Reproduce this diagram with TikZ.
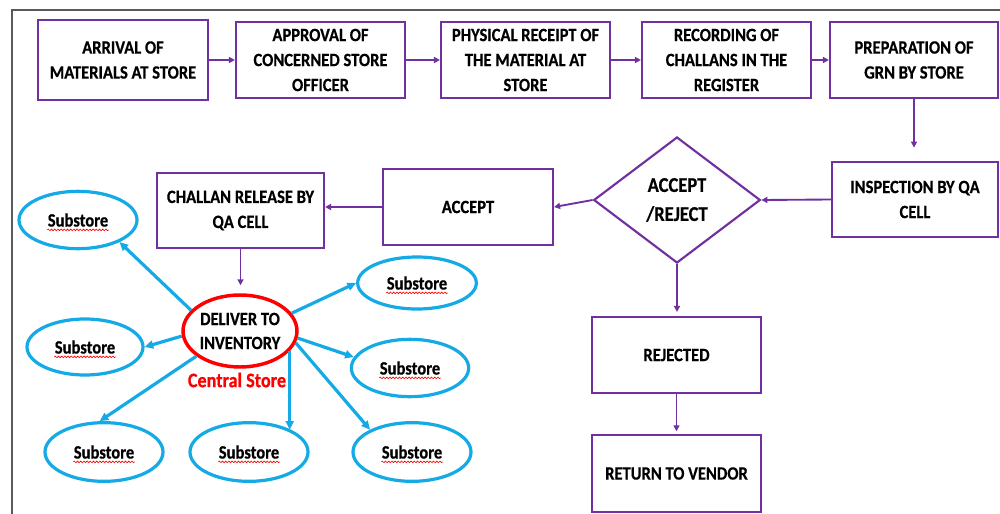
\documentclass[tikz,border=0pt]{standalone}
\usepackage{fontspec}
\setmainfont{Carlito}[FakeStretch=0.88, BoldFeatures={FakeBold=0.5}]
\usetikzlibrary{shapes.geometric,arrows.meta,decorations.pathmorphing}
\definecolor{flowpurple}{RGB}{112,48,160}
\definecolor{storeblue}{RGB}{20,170,230}
\definecolor{framegray}{RGB}{90,90,90}

\begin{document}
\begin{tikzpicture}[x=0.75pt,y=-0.75pt,
  lbl/.style={font=\fontsize{14.1}{18.75}\selectfont\bfseries, align=center},
  stepbox/.style={lbl, draw=flowpurple, line width=1.6pt, inner sep=2pt,
                  minimum width=126.75pt, minimum height=57pt},
  pflow/.style={draw=flowpurple, line width=1.4pt, -{Triangle[length=4.5pt,width=4.5pt]}},
  substore/.style={lbl, ellipse, draw=storeblue, line width=2.4pt,
                   minimum width=88.5pt, minimum height=43pt, inner sep=0pt},
  bflow/.style={draw=storeblue, line width=2.4pt, -{Triangle[length=6.5pt,width=6pt]}},
  squiggle/.style={draw=red, line width=0.5pt, decorate,
                   decoration={snake, amplitude=0.6pt, segment length=2.4pt}},
]
\useasboundingbox (0,0) rectangle (1000,514);
\fill[white] (0,0) rectangle (1000,514);
\draw[framegray, line width=1.5pt] (12,514) -- (12,10) -- (1000,10);

% top row of the receiving process
\node[stepbox, minimum width=127.5pt, minimum height=60pt] (arrive) at (123,60) {ARRIVAL OF\\MATERIALS AT STORE};
\node[stepbox] (approve) at (320.5,60) {APPROVAL OF\\CONCERNED STORE\\OFFICER};
\node[stepbox] (receipt) at (525.5,60) {PHYSICAL RECEIPT OF\\THE MATERIAL AT\\STORE};
\node[stepbox] (record)  at (726.5,60) {RECORDING OF\\CHALLANS IN THE\\REGISTER};
\node[stepbox, minimum width=126pt] (grn) at (914,60) {PREPARATION OF\\GRN BY STORE};

% inspection and decision
\node[stepbox, minimum width=124.5pt, minimum height=56.25pt] (inspect) at (915,199.5) {INSPECTION BY QA\\CELL};
\node[diamond, draw=flowpurple, line width=1.6pt, aspect=1.33, inner sep=0pt,
      minimum width=125pt, minimum height=94.5pt, align=center,
      font=\fontsize{15.8}{21.75}\selectfont\bfseries] (decide) at (677,200) {ACCEPT\\/REJECT};
\node[stepbox, minimum width=127.5pt] (accept) at (468,207) {ACCEPT};
\node[stepbox, minimum width=125.25pt, minimum height=56.25pt] (challan) at (240.5,210.5) {CHALLAN RELEASE BY\\QA CELL};
\node[stepbox] (rejected) at (676.5,355) {REJECTED};
\node[stepbox, minimum height=57.75pt] (vendor) at (676.5,473.5) {RETURN TO VENDOR};

% central store and substores
\node[lbl, ellipse, draw=red, line width=2.6pt, inner sep=0pt,
      minimum width=85.5pt, minimum height=54pt,
      font=\fontsize{14.1}{18}\selectfont\bfseries] (deliver) at (240,331) {DELIVER TO\\INVENTORY};
\node[text=red, font=\fontsize{15.5}{16}\selectfont\bfseries] (central) at (237,380) {Central Store};

\node[substore] (s1) at (78,220) {Substore};
\node[substore, minimum width=89pt, minimum height=39pt] (s2) at (417,283) {Substore};
\node[substore, minimum width=87pt, minimum height=42pt] (s3) at (85,347) {Substore};
\node[substore, minimum width=88pt] (s4) at (410,368) {Substore};
\node[substore, minimum height=44pt] (s5) at (104,452) {Substore};
\node[substore, minimum height=44pt] (s6) at (249,452) {Substore};
\node[substore, minimum height=44pt] (s7) at (412,452) {Substore};

\foreach \s in {s1,s2,s3,s4,s5,s6,s7}
  \draw[squiggle] ([xshift=-23pt,yshift=-2.5pt]\s.base) -- ([xshift=23pt,yshift=-2.5pt]\s.base);

% process flow
\draw[pflow] (arrive.east) -- (approve.west);
\draw[pflow] (approve.east) -- (receipt.west);
\draw[pflow] (receipt.east) -- (record.west);
\draw[pflow] (record.east) -- (grn.west);
\draw[pflow, shorten >=10pt] (grn.south) -- (grn.south |- inspect.north);
\draw[pflow] (inspect.west) -- (decide.east);
\draw[pflow] (decide.west) -- (accept.east);
\draw[pflow] (accept.west) -- (accept.west -| challan.east);
\draw[pflow, shorten >=6pt] (challan.south) -- (challan.south |- deliver.north);
\draw[pflow, shorten >=3pt] (decide.south) -- (decide.south |- rejected.north);
\draw[pflow, shorten >=2pt] (rejected.south) -- (vendor.north);

% distribution to substores
\draw[bflow] (deliver.157) -- (s1.-28);
\draw[bflow] (deliver.185) -- (s3.east);
\draw[bflow] (deliver.19) -- (s2.west);
\draw[bflow] (deliver.-7) -- (s4.169);
\draw[bflow] (deliver.210) -- (s5.98);
\draw[bflow] (deliver.-22) -- (deliver.-22 |- s6.28);
\draw[bflow] (deliver.-12) -- (s7.152);
\end{tikzpicture}
\end{document}
